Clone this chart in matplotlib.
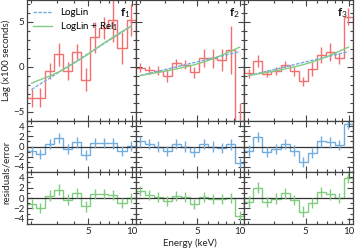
import matplotlib
matplotlib.use("Agg")
import matplotlib.pyplot as plt
from matplotlib.ticker import FixedLocator, MultipleLocator, NullFormatter, FixedFormatter
import numpy as np

plt.rcParams['font.family'] = ['Lato', 'DejaVu Sans']
plt.rcParams['mathtext.fontset'] = 'custom'
plt.rcParams['mathtext.rm'] = 'Lato'
plt.rcParams['mathtext.it'] = 'Lato:italic'
plt.rcParams['mathtext.bf'] = 'Lato:bold'

# Energy bin edges (keV) and centres
edges = [1.87, 2.16, 2.50, 2.89, 3.34, 3.86, 4.46, 5.16, 5.96, 6.89, 7.97, 9.21, 10.65]
centers = [2.01, 2.32, 2.69, 3.11, 3.59, 4.15, 4.80, 5.55, 6.41, 7.41, 8.57, 9.91]

panel_names = ["f$_1$", "f$_2$", "f$_3$"]

# Lag values (x100 s) and errors
lag_f1 = [-3.4, -3.4, -0.45, 1.4, -0.45, 1.7, -1.4, 3.3, 4.3, 5.2, 2.1, 5.2]
err_f1 = [1.0, 1.1, 0.9, 1.3, 1.0, 0.8, 1.3, 1.7, 1.2, 2.4, 1.8, 1.8]
lag_f2 = [-0.1, -0.3, -0.4, -0.95, 0.4, 0.25, -0.6, 1.05, 0.95, 0.75, 1.9, -7.0]
err_f2 = [0.5, 0.45, 0.5, 0.75, 0.5, 0.5, 0.6, 1.0, 1.1, 1.2, 2.7, 3.0]
lag_f3 = [-0.7, 0.7, -0.75, -0.45, 0.25, -0.45, -1.6, -0.2, 1.3, 1.7, 0.95, 5.6]
err_f3 = [0.5, 0.65, 0.4, 0.4, 0.4, 0.5, 0.5, 0.8, 0.9, 1.0, 0.6, 0.9]

# Models evaluated at bin centres
loglin_f1 = [-2.5, -1.86, -1.23, -0.59, 0.05, 0.68, 1.32, 1.95, 2.59, 3.23, 3.86, 4.5]
rel_f1 = [-1.8, -1.4, -1.0, -0.55, 0.0, 0.6, 1.25, 1.95, 2.65, 3.3, 3.95, 4.55]
loglin_f2 = [-0.95, -0.71, -0.47, -0.23, 0.01, 0.25, 0.50, 0.74, 0.98, 1.22, 1.46, 1.70]
rel_f2 = [-0.95, -0.78, -0.6, -0.42, -0.22, 0.0, 0.25, 0.55, 0.9, 1.3, 1.75, 2.2]
loglin_f3 = [-0.95, -0.71, -0.47, -0.23, 0.01, 0.25, 0.50, 0.74, 0.98, 1.22, 1.46, 1.70]
rel_f3 = [-0.95, -0.78, -0.6, -0.42, -0.22, 0.0, 0.25, 0.55, 0.9, 1.3, 1.75, 2.2]

# Residuals / error
res_loglin_f1 = [-0.9, -1.4, 0.5, 1.7, -0.45, 0.8, -1.7, 0.7, 0.7, 0.6, -0.9, 0.1]
res_rel_f1 = [-1.1, -1.9, 0.45, 1.6, -0.3, 1.0, -1.6, 0.8, 0.8, 0.6, -1.0, 0.0]
res_loglin_f2 = [1.0, 0.5, 0.0, -0.9, 0.5, 0.0, -1.1, 0.5, 0.0, -0.25, 0.4, -3.3]
res_rel_f2 = [1.3, 0.6, 0.2, -0.6, 0.4, 0.2, -1.2, 0.2, -0.2, -0.2, 0.0, -3.5]
res_loglin_f3 = [-0.8, 1.8, -1.1, -0.45, 0.5, -0.8, -3.0, -1.3, 1.0, 0.8, 0.3, 4.4]
res_rel_f3 = [-0.7, 2.0, -0.8, -0.1, 0.9, -0.4, -2.6, -1.0, 1.1, 0.7, 0.0, 3.9]

lags = [lag_f1, lag_f2, lag_f3]
errs = [err_f1, err_f2, err_f3]
loglins = [loglin_f1, loglin_f2, loglin_f3]
rels = [rel_f1, rel_f2, rel_f3]
res_ll = [res_loglin_f1, res_loglin_f2, res_loglin_f3]
res_rl = [res_rel_f1, res_rel_f2, res_rel_f3]

RED = '#f27070'
BLUE = '#72ade0'
GREEN = '#82cc82'
SPINE = '#444444'

W, H = 357, 250
fig = plt.figure(figsize=(W / 100, H / 100), dpi=100)

col_x = [27, 135.7, 244.3, 353]
rows = [(0, 121), (121, 172), (172, 224)]

def axpos(c, r):
    x0 = col_x[c] / W
    w = (col_x[c + 1] - col_x[c]) / W
    top, bot = rows[r]
    return [x0, 1 - bot / H, w, (bot - top) / H]

def style(ax, ylim, ymaj, ymin, left_labels, bottom_labels):
    ax.set_xscale('log')
    ax.set_xlim(1.87, 10.67)
    ax.set_ylim(*ylim)
    ax.xaxis.set_major_locator(FixedLocator([5, 10]))
    ax.xaxis.set_minor_locator(FixedLocator([2, 3, 4, 6, 7, 8, 9]))
    ax.xaxis.set_minor_formatter(NullFormatter())
    if bottom_labels:
        ax.xaxis.set_major_formatter(FixedFormatter(['5', '10']))
    else:
        ax.xaxis.set_major_formatter(NullFormatter())
    ax.yaxis.set_major_locator(FixedLocator(ymaj))
    ax.yaxis.set_minor_locator(MultipleLocator(ymin))
    if not left_labels:
        ax.yaxis.set_major_formatter(NullFormatter())
    ax.tick_params(which='both', direction='in', top=True, right=True,
                   colors=SPINE, labelcolor='#222222', labelsize=7, width=0.8)
    ax.tick_params(which='major', length=4.5, pad=2)
    ax.tick_params(which='minor', length=2.5)
    for s in ax.spines.values():
        s.set_color(SPINE)
        s.set_linewidth(0.9)

for c in range(3):
    # Top lag panel
    ax = fig.add_axes(axpos(c, 0))
    ax.stairs(lags[c], edges, color=RED, lw=1.0)
    lo = [v - e for v, e in zip(lags[c], errs[c])]
    hi = [v + e for v, e in zip(lags[c], errs[c])]
    ax.vlines(centers, lo, hi, color=RED, lw=1.0)
    l1, = ax.plot(centers, loglins[c], color=BLUE, lw=1.0, ls=(0, (2.5, 1)), label='LogLin')
    l2, = ax.plot(centers, rels[c], color=GREEN, lw=1.0, label='LogLin + Rel$_1$')
    style(ax, (-6, 7.44), [-5, 0, 5], 1, c == 0, False)
    ax.text(0.955, 0.95, panel_names[c], transform=ax.transAxes, ha='right', va='top',
            fontsize=8.5, fontweight='bold', color='#111111')
    if c == 0:
        ax.legend(handles=[l1, l2], loc='upper left', frameon=False, fontsize=7,
                  handlelength=2.0, handletextpad=0.8, borderaxespad=0.2,
                  labelspacing=0.3, bbox_to_anchor=(0.0, 0.98))

    # Residual panels
    for r, (res, col) in enumerate([(res_ll[c], BLUE), (res_rl[c], GREEN)], start=1):
        axr = fig.add_axes(axpos(c, r))
        axr.axhline(0, color='#333333', lw=0.9)
        axr.stairs(res, edges, color=col, lw=1.0)
        axr.vlines(centers, [v - 1 for v in res], [v + 1 for v in res], color=col, lw=1.0)
        style(axr, (-5, 5), [-4, -2, 0, 2, 4], 1, c == 0, r == 2)

fig.text(6 / W, 1 - 60 / H, 'Lag (x100 seconds)', rotation=90, ha='center', va='center',
         fontsize=7, color='#222222')
fig.text(6 / W, 1 - 172 / H, 'residuals/error', rotation=90, ha='center', va='center',
         fontsize=7, color='#222222')
fig.text(190 / W, 1 - 243 / H, 'Energy (keV)', ha='center', va='center',
         fontsize=7, color='#222222')

fig.savefig('out.png', dpi=100)
